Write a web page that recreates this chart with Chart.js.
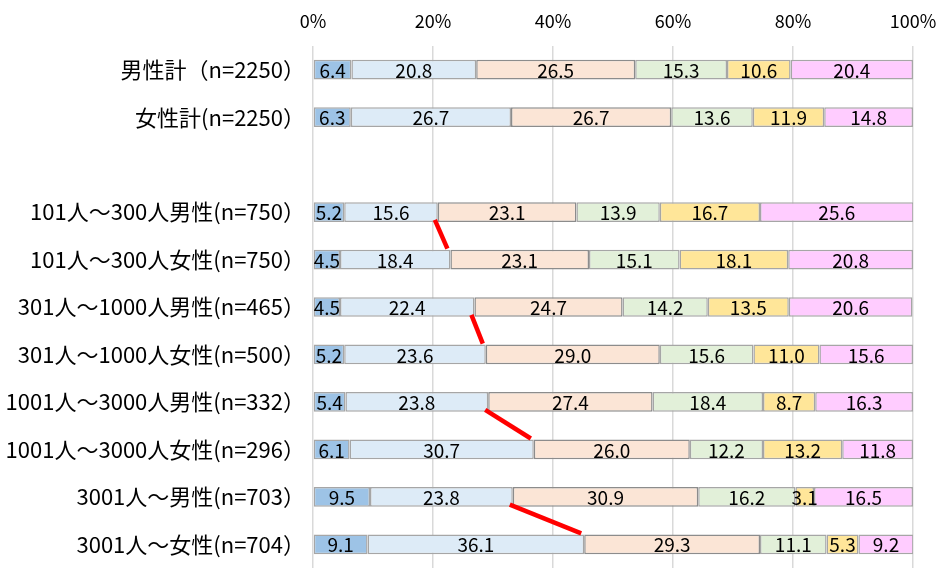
<!DOCTYPE html>
<html>
<head>
<meta charset="utf-8">
<script src="https://cdn.jsdelivr.net/npm/chart.js@4"></script>
<style>
  html, body { margin: 0; padding: 0; background: #fff; }
  #wrap { width: 942px; height: 570px; }
</style>
</head>
<body>
<div id="wrap"><canvas id="c" width="942" height="570"></canvas></div>
<script>
// Row labels (blank row separates the totals from the size breakdown)
const categories = [
  '男性計（n=2250）',
  '女性計(n=2250）',
  '',
  '101人～300人男性(n=750）',
  '101人～300人女性(n=750）',
  '301人～1000人男性(n=465）',
  '301人～1000人女性(n=500）',
  '1001人～3000人男性(n=332）',
  '1001人～3000人女性(n=296）',
  '3001人～男性(n=703）',
  '3001人～女性(n=704）'
];

// Share of answers per row, in percent
const series1 = [6.4, 6.3, null, 5.2, 4.5, 4.5, 5.2, 5.4, 6.1, 9.5, 9.1];
const series2 = [20.8, 26.7, null, 15.6, 18.4, 22.4, 23.6, 23.8, 30.7, 23.8, 36.1];
const series3 = [26.5, 26.7, null, 23.1, 23.1, 24.7, 29.0, 27.4, 26.0, 30.9, 29.3];
const series4 = [15.3, 13.6, null, 13.9, 15.1, 14.2, 15.6, 18.4, 12.2, 16.2, 11.1];
const series5 = [10.6, 11.9, null, 16.7, 18.1, 13.5, 11.0, 8.7, 13.2, 3.1, 5.3];
const series6 = [20.4, 14.8, null, 25.6, 20.8, 20.6, 15.6, 16.3, 11.8, 16.5, 9.2];

const tickValues = [0, 20, 40, 60, 80, 100];

// Male/female row pairs joined by a line at the end of the second segment
const linkedPairs = [[3, 4], [5, 6], [7, 8], [9, 10]];

const fills = ['#9DC3E6', '#DDEBF7', '#FBE5D6', '#E2F0D9', '#FFE699', '#FFCCFF'];
const edges = ['#A6A6A6', '#A6A6A6', '#8C8C8C', '#A6A6A6', '#A6A6A6', '#A6A6A6'];
const allSeries = [series1, series2, series3, series4, series5, series6];

const datasets = allSeries.map((d, i) => ({
  label: '区分' + (i + 1),
  data: d,
  backgroundColor: fills[i],
  borderColor: edges[i],
  borderWidth: 1.5,
  borderSkipped: false,
  categoryPercentage: 0.8,
  barPercentage: 0.52
}));

const FONT = '"Noto Sans CJK JP", "Noto Sans", sans-serif';

// Value text centred in each segment
const segmentLabels = {
  id: 'segmentLabels',
  afterDatasetsDraw(chart) {
    const ctx = chart.ctx;
    ctx.save();
    ctx.font = '19px ' + FONT;
    ctx.fillStyle = '#000';
    ctx.textAlign = 'center';
    ctx.textBaseline = 'middle';
    chart.data.datasets.forEach((ds, di) => {
      const meta = chart.getDatasetMeta(di);
      meta.data.forEach((bar, i) => {
        const v = ds.data[i];
        if (v === null || v === undefined) return;
        const p = bar.getProps(['x', 'y', 'base'], true);
        ctx.fillText(v.toFixed(1), (p.x + p.base) / 2, p.y + 1);
      });
    });
    ctx.restore();
  }
};

// Red connectors between the end of segment 2 on paired rows
const pairLines = {
  id: 'pairLines',
  afterDatasetsDraw(chart) {
    const ctx = chart.ctx;
    const meta = chart.getDatasetMeta(1);
    ctx.save();
    ctx.strokeStyle = '#FF0000';
    ctx.lineWidth = 4.5;
    ctx.lineCap = 'butt';
    linkedPairs.forEach(([a, b]) => {
      const m = meta.data[a].getProps(['x', 'y', 'height'], true);
      const f = meta.data[b].getProps(['x', 'y', 'height'], true);
      ctx.beginPath();
      ctx.moveTo(m.x - 3, m.y + m.height / 2 - 2);
      ctx.lineTo(f.x - 3, f.y - f.height / 2 - 1);
      ctx.stroke();
    });
    ctx.restore();
  }
};

new Chart(document.getElementById('c'), {
  type: 'bar',
  data: { labels: categories, datasets },
  options: {
    indexAxis: 'y',
    responsive: false,
    animation: false,
    layout: { padding: { top: 0, right: 29, bottom: 2, left: 0 } },
    plugins: {
      legend: { display: false },
      tooltip: { enabled: false }
    },
    scales: {
      x: {
        position: 'top',
        stacked: true,
        min: 0,
        max: 100,
        afterBuildTicks(scale) {
          scale.ticks = tickValues.map(v => ({ value: v }));
        },
        afterFit(scale) {
          scale.height = 46;
          scale.paddingLeft = 0;
          scale.paddingRight = 0;
        },
        grid: { color: '#D9D9D9', lineWidth: 1.5, drawTicks: false },
        border: { display: false },
        ticks: {
          padding: 14,
          color: '#000',
          font: { family: FONT, size: 18 },
          callback: v => v + '%'
        }
      },
      y: {
        stacked: true,
        afterFit(scale) {
          scale.width = 313;
          scale.paddingTop = 0;
          scale.paddingBottom = 0;
        },
        grid: { display: false },
        border: { display: false },
        ticks: {
          padding: 0,
          color: '#000',
          font: { family: FONT, size: 22 }
        }
      }
    }
  },
  plugins: [segmentLabels, pairLines]
});
</script>
</body>
</html>
